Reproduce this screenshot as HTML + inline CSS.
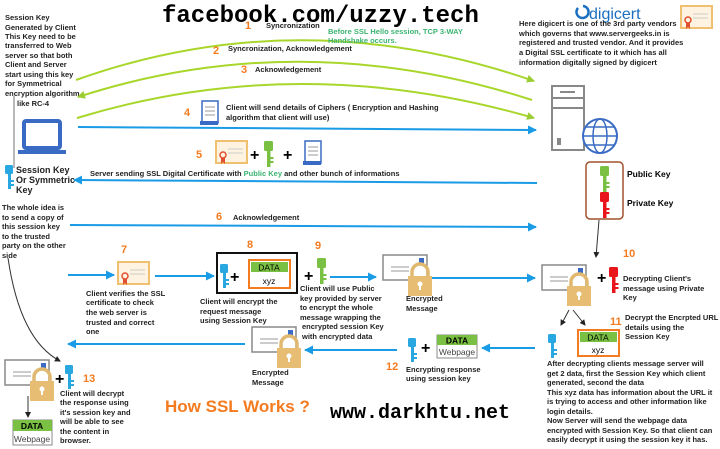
<!DOCTYPE html>
<html><head><meta charset="utf-8"><style>
html,body{margin:0;padding:0;background:#fff;}
svg{display:block;font-family:"Liberation Sans",Arial,sans-serif;}
.t{font-size:7.5px;font-weight:bold;fill:#222;}
.n{font-size:11px;fill:#f47b20;font-weight:bold;}
.mono{font-family:"Liberation Mono",monospace;font-weight:bold;fill:#000;}
</style></head><body>
<svg width="720" height="449" viewBox="0 0 720 449">
<defs>
<marker id="ag" markerWidth="8" markerHeight="8" refX="7" refY="4" orient="auto" markerUnits="userSpaceOnUse"><path d="M0,0L8,4L0,8z" fill="#9acd32"/></marker>
<marker id="ab" markerWidth="9" markerHeight="9" refX="8" refY="4.5" orient="auto" markerUnits="userSpaceOnUse"><path d="M0,0L9,4.5L0,9z" fill="#1a9be6"/></marker>
<marker id="ak" markerWidth="6" markerHeight="6" refX="5" refY="3" orient="auto" markerUnits="userSpaceOnUse"><path d="M0,0L6,3L0,6z" fill="#222"/></marker>
<g id="env"><rect x="0" y="0" width="44" height="25" fill="#fff" stroke="#888" stroke-width="1.5"/><line x1="8" y1="12" x2="26" y2="12" stroke="#999"/><line x1="8" y1="16" x2="26" y2="16" stroke="#999"/><rect x="36" y="3" width="5" height="7" fill="#3a6bc4"/><path d="M29,22v-5a8,8 0 0 1 16,0v5" fill="none" stroke="#e0b870" stroke-width="3.5"/><rect x="25" y="21" width="24" height="20" fill="#e6bd72"/><circle cx="37" cy="29" r="2.5" fill="#fff"/><rect x="36" y="29" width="2" height="6" fill="#fff"/></g>
<g id="kb"><rect x="-3" y="0" width="8" height="9" rx="1.5" fill="#29a7e1"/><rect x="0" y="8" width="3" height="16" fill="#29a7e1"/><rect x="3" y="15" width="3" height="2" fill="#29a7e1"/><rect x="3" y="19" width="3" height="2" fill="#29a7e1"/></g>
<g id="kg"><rect x="-3" y="0" width="9" height="10" rx="1.5" fill="#7ac143"/><rect x="0" y="9" width="3.5" height="17" fill="#7ac143"/><rect x="3.5" y="16" width="3" height="2" fill="#7ac143"/><rect x="3.5" y="20" width="3" height="2" fill="#7ac143"/></g>
<g id="kr"><rect x="-3" y="0" width="9" height="10" rx="1.5" fill="#e8161b"/><rect x="0" y="9" width="3.5" height="17" fill="#e8161b"/><rect x="3.5" y="16" width="3" height="2" fill="#e8161b"/><rect x="3.5" y="20" width="3" height="2" fill="#e8161b"/></g>
<g id="cert"><rect x="0" y="0" width="31" height="22" fill="#fdf3e0" stroke="#f0c070" stroke-width="2"/><line x1="12" y1="8" x2="27" y2="8" stroke="#ccc"/><line x1="12" y1="12" x2="27" y2="12" stroke="#ccc"/><circle cx="7" cy="14" r="3" fill="none" stroke="#e05030" stroke-width="1.5"/><path d="M5,17v6l2,-2l2,2v-6" fill="#e05030"/></g>
<g id="scroll"><rect x="2" y="0" width="16" height="22" fill="#fff" stroke="#3a6bc4" stroke-width="1.5"/><line x1="5" y1="6" x2="15" y2="6" stroke="#999"/><line x1="5" y1="10" x2="15" y2="10" stroke="#999"/><line x1="5" y1="14" x2="15" y2="14" stroke="#999"/><path d="M0,20h18v4h-18z" fill="#3a6bc4"/></g>
</defs>

<text x="162" y="22" class="mono" font-size="24">facebook.com/uzzy.tech</text>

<g class="t">
<text x="5" y="20">Session Key</text><text x="5" y="30">Generated by Client</text><text x="5" y="39">This Key need to be</text><text x="5" y="48">transferred to Web</text><text x="5" y="58">server so that both</text><text x="5" y="67">Client and Server</text><text x="5" y="77">start using this key</text><text x="5" y="86">for Symmetrical</text><text x="5" y="96">encryption algorithm</text><text x="17" y="106">like RC-4</text>
</g>

<path d="M76,80 Q300,0 534,81" fill="none" stroke="#a8d62a" stroke-width="2" marker-end="url(#ag)"/>
<path d="M532,100 Q300,25 78,97" fill="none" stroke="#a8d62a" stroke-width="2" marker-end="url(#ag)"/>
<path d="M77,118 Q300,50 534,118" fill="none" stroke="#a8d62a" stroke-width="2" marker-end="url(#ag)"/>
<text x="245" y="29" class="n">1</text><text x="266" y="28" class="t">Syncronization</text>
<text x="213" y="54" class="n">2</text><text x="228" y="51" class="t">Syncronization, Acknowledgement</text>
<text x="241" y="73" class="n">3</text><text x="255" y="72" class="t">Acknowledgement</text>
<text x="328" y="34" class="t" style="fill:#3cb371">Before SSL Hello session, TCP 3-WAY</text>
<text x="328" y="43" class="t" style="fill:#3cb371">Handshake occurs.</text>

<text x="184" y="116" class="n">4</text>
<use href="#scroll" x="200" y="101"/>
<text x="226" y="110" class="t">Client will send details of Ciphers ( Encryption and Hashing</text>
<text x="226" y="120" class="t">algorithm that client will use)</text>
<line x1="78" y1="127" x2="536" y2="130" stroke="#1a9be6" stroke-width="2" marker-end="url(#ab)"/>

<rect x="24" y="121" width="36" height="27" rx="2" fill="#fff" stroke="#3a6bc4" stroke-width="4"/>
<path d="M18,150h48v4h-48z" fill="#3a6bc4"/>
<line x1="14" y1="96" x2="14" y2="168" stroke="#888" stroke-width="1.2"/>
<use href="#kb" x="8" y="165"/>
<g font-size="9" font-weight="bold" fill="#222"><text x="16" y="173">Session Key</text><text x="16" y="183">Or Symmetric</text><text x="16" y="193">Key</text></g>

<text x="196" y="158" class="n">5</text>
<use href="#cert" x="216" y="141"/>
<text x="250" y="160" font-size="16" font-weight="bold">+</text>
<use href="#kg" x="267" y="141"/>
<text x="283" y="160" font-size="16" font-weight="bold">+</text>
<use href="#scroll" x="303" y="141"/>
<text x="90" y="176" class="t">Server sending SSL Digital Certificate with <tspan style="fill:#3cb371">Public Key</tspan> and other bunch of informations</text>
<line x1="537" y1="183" x2="74" y2="180" stroke="#1a9be6" stroke-width="2" marker-end="url(#ab)"/>

<rect x="552" y="86" width="32" height="64" fill="#fff" stroke="#888" stroke-width="2"/>
<line x1="552" y1="98" x2="584" y2="98" stroke="#888" stroke-width="2"/><line x1="552" y1="108" x2="584" y2="108" stroke="#888" stroke-width="2"/>
<line x1="560" y1="92" x2="575" y2="92" stroke="#888" stroke-width="2"/>
<rect x="557" y="138" width="4" height="7" fill="#888"/>
<circle cx="600" cy="136" r="17" fill="#fff" stroke="#3a6bc4" stroke-width="2"/>
<ellipse cx="600" cy="136" rx="7" ry="17" fill="none" stroke="#3a6bc4" stroke-width="1.5"/>
<line x1="583" y1="136" x2="617" y2="136" stroke="#3a6bc4" stroke-width="1.5"/>
<line x1="586" y1="127" x2="614" y2="127" stroke="#3a6bc4" stroke-width="1.5"/><line x1="586" y1="145" x2="614" y2="145" stroke="#3a6bc4" stroke-width="1.5"/>

<circle cx="221" cy="12" r="0" fill="none"/>
<path d="M578,8 A6,6 0 1 0 583,6" fill="none" stroke="#1b6fc0" stroke-width="2.5"/>
<text x="589" y="19" font-size="16" fill="#1b6fc0">digicert</text>
<use href="#cert" x="681" y="6"/>
<g class="t"><text x="519" y="26">Here digicert is one of the 3rd party vendors</text><text x="519" y="36">which governs that www.servergeeks.in is</text><text x="519" y="45">registered and trusted vendor. And it provides</text><text x="519" y="55">a Digital SSL certificate to it which has all</text><text x="519" y="65">information digitally signed by digicert</text></g>

<rect x="586" y="162" width="37" height="57" rx="4" fill="none" stroke="#a0522d" stroke-width="1.5"/>
<use href="#kg" x="603" y="166"/><use href="#kr" x="603" y="192"/>
<text x="627" y="177" font-size="8.5" font-weight="bold">Public Key</text>
<text x="627" y="206" font-size="8.5" font-weight="bold">Private Key</text>
<line x1="599" y1="220" x2="596" y2="257" stroke="#333" stroke-width="1" marker-end="url(#ak)"/>

<text x="216" y="220" class="n">6</text><text x="233" y="220" class="t">Acknowledgement</text>
<line x1="70" y1="225" x2="536" y2="227" stroke="#1a9be6" stroke-width="2" marker-end="url(#ab)"/>
<g class="t"><text x="2" y="210">The whole idea is</text><text x="2" y="220">to send a copy of</text><text x="2" y="229">this session key</text><text x="2" y="239">to the trusted</text><text x="2" y="248">party on the other</text><text x="2" y="258">side</text></g>
<path d="M8,258 Q20,340 60,361" fill="none" stroke="#333" stroke-width="1" marker-end="url(#ak)"/>

<text x="121" y="253" class="n">7</text>
<line x1="68" y1="275" x2="114" y2="275" stroke="#1a9be6" stroke-width="2" marker-end="url(#ab)"/>
<use href="#cert" x="118" y="262"/>
<line x1="155" y1="276" x2="214" y2="276" stroke="#1a9be6" stroke-width="2" marker-end="url(#ab)"/>
<g class="t"><text x="86" y="296">Client verifies the SSL</text><text x="86" y="305">certificate to check</text><text x="86" y="315">the web server is</text><text x="86" y="325">trusted and correct</text><text x="86" y="334">one</text></g>

<text x="247" y="248" class="n">8</text>
<rect x="217" y="253" width="80" height="40" fill="#fff" stroke="#111" stroke-width="2"/>
<use href="#kb" x="223" y="264"/>
<text x="230" y="282" font-size="16" font-weight="bold">+</text>
<rect x="249" y="260" width="41" height="28" fill="#fff" stroke="#f47b20" stroke-width="2"/>
<rect x="251" y="262" width="37" height="10" fill="#7ac143"/>
<text x="269" y="270.5" font-size="8.5" text-anchor="middle">DATA</text>
<text x="269" y="284" font-size="8.5" text-anchor="middle">xyz</text>
<g class="t"><text x="200" y="304">Client will encrypt the</text><text x="200" y="314">request message</text><text x="200" y="323">using Session Key</text></g>

<text x="315" y="249" class="n">9</text>
<text x="304" y="281" font-size="16" font-weight="bold">+</text>
<use href="#kg" x="320" y="258"/>
<line x1="330" y1="277" x2="376" y2="277" stroke="#1a9be6" stroke-width="2" marker-end="url(#ab)"/>
<g class="t"><text x="300" y="291">Client will use Public</text><text x="300" y="301">key provided by server</text><text x="300" y="310">to encrypt the whole</text><text x="300" y="320">message wrapping the</text><text x="302" y="329">encrypted session Key</text><text x="302" y="339">with encrypted data</text></g>
<use href="#env" x="383" y="255"/>
<g class="t"><text x="406" y="301">Encrypted</text><text x="406" y="311">Message</text></g>
<line x1="432" y1="278" x2="535" y2="278" stroke="#1a9be6" stroke-width="2" marker-end="url(#ab)"/>

<use href="#env" x="542" y="265"/>
<text x="623" y="257" class="n">10</text>
<text x="597" y="283" font-size="16" font-weight="bold">+</text>
<use href="#kr" x="612" y="267"/>
<g class="t"><text x="623" y="281">Decrypting Client's</text><text x="623" y="291">message using Private</text><text x="623" y="300">Key</text></g>
<line x1="569" y1="310" x2="561" y2="325" stroke="#333" marker-end="url(#ak)"/>
<line x1="573" y1="310" x2="585" y2="325" stroke="#333" marker-end="url(#ak)"/>
<text x="610" y="325" class="n">11</text>
<g class="t"><text x="625" y="320">Decrypt the Encrpted URL</text><text x="625" y="330">details using the</text><text x="625" y="339">Session Key</text></g>
<use href="#kb" x="551" y="334"/>
<rect x="578" y="330" width="41" height="26" fill="#fff" stroke="#f47b20" stroke-width="2"/>
<rect x="580" y="332" width="37" height="10" fill="#7ac143"/>
<text x="598" y="340.5" font-size="8.5" text-anchor="middle">DATA</text>
<text x="598" y="353" font-size="8.5" text-anchor="middle">xyz</text>
<g class="t"><text x="547" y="366">After decrypting clients message server will</text><text x="547" y="376">get 2 data, first the Session Key which client</text><text x="547" y="385">generated, second the data</text><text x="547" y="395">This xyz data has information about the URL it</text><text x="547" y="404">is trying to access and other information like</text><text x="547" y="414">login details.</text><text x="547" y="423">Now Server will send the webpage data</text><text x="547" y="433">encrypted with Session Key. So that client can</text><text x="547" y="442">easily decrypt it using the session key it has.</text></g>

<line x1="535" y1="348" x2="482" y2="348" stroke="#1a9be6" stroke-width="2" marker-end="url(#ab)"/>
<rect x="437" y="335" width="40" height="23" fill="#fff" stroke="#888"/>
<rect x="437" y="335" width="40" height="10" fill="#7ac143"/>
<text x="457" y="343.5" font-size="8.5" font-weight="bold" text-anchor="middle">DATA</text>
<text x="457" y="355" font-size="8.5" text-anchor="middle" fill="#444">Webpage</text>
<text x="421" y="353" font-size="16" font-weight="bold">+</text>
<use href="#kb" x="411" y="338"/>
<text x="386" y="370" class="n">12</text>
<g class="t"><text x="406" y="372">Encrypting response</text><text x="406" y="381">using session key</text></g>
<line x1="397" y1="350" x2="305" y2="350" stroke="#1a9be6" stroke-width="2" marker-end="url(#ab)"/>
<use href="#env" x="252" y="327"/>
<g class="t"><text x="252" y="375">Encrypted</text><text x="252" y="385">Message</text></g>
<line x1="245" y1="344" x2="68" y2="344" stroke="#1a9be6" stroke-width="2" marker-end="url(#ab)"/>

<use href="#env" x="5" y="360"/>
<text x="55" y="384" font-size="16" font-weight="bold">+</text>
<use href="#kb" x="68" y="365"/>
<text x="83" y="382" class="n">13</text>
<g class="t"><text x="60" y="396">Client will decrypt</text><text x="60" y="405">the response using</text><text x="60" y="415">it's session key and</text><text x="60" y="424">will be able to see</text><text x="60" y="434">the content in</text><text x="60" y="443">browser.</text></g>
<line x1="28" y1="396" x2="28" y2="417" stroke="#333" marker-end="url(#ak)"/>
<rect x="13" y="420" width="39" height="25" fill="#fff" stroke="#888"/>
<rect x="13" y="420" width="39" height="11" fill="#7ac143"/>
<text x="32" y="429" font-size="8.5" font-weight="bold" text-anchor="middle">DATA</text>
<text x="32" y="442" font-size="8.5" text-anchor="middle" fill="#444">Webpage</text>

<text x="165" y="412" font-size="17" font-weight="bold" fill="#f47b20">How SSL Works ?</text>
<text x="330" y="418" class="mono" font-size="20">www.darkhtu.net</text>
</svg>
</body></html>
